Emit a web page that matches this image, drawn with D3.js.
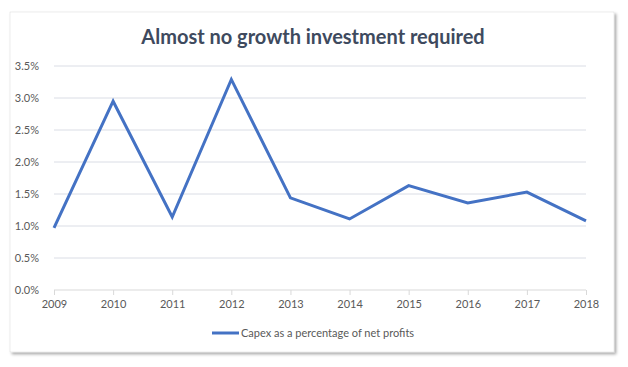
<!DOCTYPE html>
<html lang="en">
<head>
<meta charset="UTF-8">
<title>Almost no growth investment required</title>
<script src="https://d3js.org/d3.v7.min.js"></script>
<style>
html, body {
  margin: 0;
  padding: 0;
  background-color: white;
}
body {
  font-family: 'Lato', 'Open Sans', sans-serif;
}
#chart svg {
  display: block;
}
.title {
  font-family: 'Lato', sans-serif;
  font-weight: bold;
  font-size: 20px;
  fill: #3e4a5e;
}
.tick text {
  font-family: 'Lato', sans-serif;
  font-size: 11px;
  fill: #595959;
}
.legend {
  font-family: 'Lato', sans-serif;
  font-size: 11px;
  fill: #595959;
}
</style>
</head>
<body>
<div id="chart"></div>
<script>

// --------------------------------------
// Data
// --------------------------------------

const years = ["2009", "2010", "2011", "2012", "2013", "2014", "2015", "2016", "2017", "2018"];
const capexPct = [0.97, 2.95, 1.14, 3.29, 1.44, 1.11, 1.63, 1.36, 1.53, 1.08];
const yTicks = [0, 0.5, 1.0, 1.5, 2.0, 2.5, 3.0, 3.5];
const seriesName = "Capex as a percentage of net profits";
const chartTitle = "Almost no growth investment required";

// --------------------------------------
// Size and margin
// --------------------------------------

let totalWidth = 628;
let totalHeight = 367;
let margin = {top: 66, right: 42, bottom: 77, left: 54};

let svg = d3.select("#chart")
  .append("svg")
  .attr("width", totalWidth)
  .attr("height", totalHeight);

// shadow for the frame
let defs = svg.append("defs");
let filter = defs.append("filter")
  .attr("id", "shadow")
  .attr("x", "-5%").attr("y", "-5%")
  .attr("width", "110%").attr("height", "110%");
filter.append("feDropShadow")
  .attr("dx", 2).attr("dy", 2)
  .attr("stdDeviation", 1.5)
  .attr("flood-color", "#000")
  .attr("flood-opacity", 0.35);

svg.append("rect")
  .attr("x", 10)
  .attr("y", 12)
  .attr("width", 604)
  .attr("height", 340)
  .attr("fill", "white")
  .attr("stroke", "#d9d9d9")
  .attr("stroke-width", 0.5)
  .attr("filter", "url(#shadow)");

// --------------------------------------
// Title
// --------------------------------------

svg.append("text")
  .attr("class", "title")
  .attr("x", 313)
  .attr("y", 44)
  .attr("text-anchor", "middle")
  .text(chartTitle);

// --------------------------------------
// Scales
// --------------------------------------

let x = d3.scalePoint()
  .domain(years)
  .range([margin.left, totalWidth - margin.right]);

let y = d3.scaleLinear()
  .domain([0, 3.5])
  .range([totalHeight - margin.bottom, margin.top]);

// --------------------------------------
// Gridlines and axes
// --------------------------------------

svg.append("g")
  .selectAll("line")
  .data(yTicks.filter(d => d > 0))
  .join("line")
  .attr("x1", margin.left)
  .attr("x2", totalWidth - margin.right)
  .attr("y1", d => y(d))
  .attr("y2", d => y(d))
  .attr("stroke", "#dadde5")
  .attr("stroke-width", 1);

let yAxis = svg.append("g")
  .attr("transform", `translate(${margin.left - 12},0)`)
  .call(d3.axisLeft(y).tickValues(yTicks).tickSize(0).tickFormat(d => d.toFixed(1) + "%"));
yAxis.select(".domain").remove();
yAxis.selectAll("text").attr("dy", "0.35em");

let xAxis = svg.append("g")
  .attr("transform", `translate(0,${y(0)})`)
  .call(d3.axisBottom(x).tickSize(5).tickPadding(5));
xAxis.select(".domain")
  .attr("stroke", "#d9d9d9")
  .attr("d", `M${margin.left},0H${totalWidth - margin.right}`);
xAxis.selectAll(".tick line").attr("stroke", "#d9d9d9");

// --------------------------------------
// Line
// --------------------------------------

let line = d3.line()
  .x((d, i) => x(years[i]))
  .y(d => y(d));

svg.append("path")
  .datum(capexPct)
  .attr("fill", "none")
  .attr("stroke", "#4472c4")
  .attr("stroke-width", 3)
  .attr("stroke-linejoin", "miter")
  .attr("d", line);

// --------------------------------------
// Legend
// --------------------------------------

let legend = svg.append("g")
  .attr("transform", "translate(212,333)");

legend.append("line")
  .attr("x1", 0).attr("x2", 27)
  .attr("y1", 0).attr("y2", 0)
  .attr("stroke", "#4472c4")
  .attr("stroke-width", 3);

legend.append("text")
  .attr("class", "legend")
  .attr("x", 29)
  .attr("y", 4)
  .text(seriesName);

</script>
</body>
</html>
